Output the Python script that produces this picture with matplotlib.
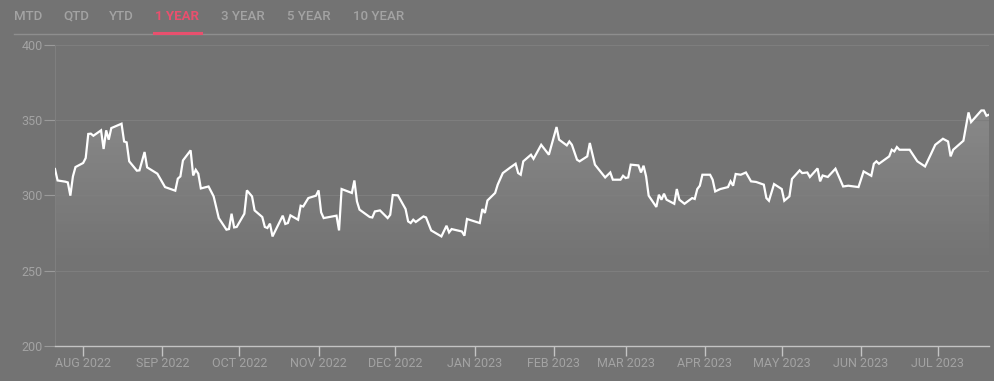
import matplotlib
matplotlib.use("Agg")
import matplotlib.pyplot as plt
import matplotlib.dates as mdates
import numpy as np
import pandas as pd

# Price series (date, close)
dates = [
    "2022-07-21", "2022-07-22", "2022-07-25", "2022-07-26", "2022-07-27", "2022-07-28", "2022-07-29",
    "2022-08-01", "2022-08-02", "2022-08-03", "2022-08-04", "2022-08-05", "2022-08-08", "2022-08-09",
    "2022-08-10", "2022-08-11", "2022-08-12", "2022-08-16", "2022-08-17", "2022-08-18", "2022-08-19",
    "2022-08-22", "2022-08-23", "2022-08-25", "2022-08-26", "2022-08-30", "2022-09-02", "2022-09-06",
    "2022-09-07", "2022-09-08", "2022-09-09", "2022-09-12", "2022-09-13", "2022-09-14", "2022-09-15",
    "2022-09-16", "2022-09-19", "2022-09-21", "2022-09-23", "2022-09-26", "2022-09-27", "2022-09-28",
    "2022-09-29", "2022-09-30", "2022-10-03", "2022-10-04", "2022-10-06", "2022-10-07", "2022-10-10",
    "2022-10-11", "2022-10-12", "2022-10-13", "2022-10-14", "2022-10-18", "2022-10-19", "2022-10-20",
    "2022-10-21", "2022-10-24", "2022-10-25", "2022-10-26", "2022-10-28", "2022-10-31", "2022-11-01",
    "2022-11-02", "2022-11-03", "2022-11-08", "2022-11-09", "2022-11-10", "2022-11-14", "2022-11-15",
    "2022-11-16", "2022-11-17", "2022-11-21", "2022-11-22", "2022-11-23", "2022-11-25", "2022-11-28",
    "2022-11-29", "2022-11-30", "2022-12-02", "2022-12-05", "2022-12-06", "2022-12-07", "2022-12-08",
    "2022-12-09", "2022-12-12", "2022-12-13", "2022-12-15", "2022-12-19", "2022-12-21", "2022-12-22",
    "2022-12-23", "2022-12-27", "2022-12-28", "2022-12-29", "2023-01-03", "2023-01-04", "2023-01-05",
    "2023-01-06", "2023-01-09", "2023-01-10", "2023-01-12", "2023-01-15", "2023-01-17", "2023-01-18",
    "2023-01-19", "2023-01-20", "2023-01-23", "2023-01-24", "2023-01-27", "2023-01-30", "2023-02-02",
    "2023-02-03", "2023-02-06", "2023-02-07", "2023-02-08", "2023-02-10", "2023-02-11", "2023-02-14",
    "2023-02-15", "2023-02-17", "2023-02-21", "2023-02-23", "2023-02-24", "2023-02-27", "2023-02-28",
    "2023-03-01", "2023-03-02", "2023-03-03", "2023-03-06", "2023-03-07", "2023-03-08", "2023-03-09",
    "2023-03-10", "2023-03-13", "2023-03-14", "2023-03-15", "2023-03-16", "2023-03-17", "2023-03-20",
    "2023-03-21", "2023-03-22", "2023-03-24", "2023-03-27", "2023-03-28", "2023-03-29", "2023-03-30",
    "2023-03-31", "2023-04-03", "2023-04-04", "2023-04-05", "2023-04-07", "2023-04-10", "2023-04-11",
    "2023-04-12", "2023-04-13", "2023-04-15", "2023-04-17", "2023-04-19", "2023-04-21", "2023-04-24",
    "2023-04-25", "2023-04-26", "2023-04-28", "2023-05-01", "2023-05-02", "2023-05-04", "2023-05-05",
    "2023-05-08", "2023-05-09", "2023-05-11", "2023-05-12", "2023-05-15", "2023-05-16", "2023-05-17",
    "2023-05-19", "2023-05-22", "2023-05-25", "2023-05-27", "2023-05-31", "2023-06-02", "2023-06-05",
    "2023-06-06", "2023-06-07", "2023-06-08", "2023-06-12", "2023-06-13", "2023-06-14", "2023-06-15",
    "2023-06-16", "2023-06-20", "2023-06-23", "2023-06-26", "2023-06-28", "2023-06-30", "2023-07-03",
    "2023-07-05", "2023-07-06", "2023-07-07", "2023-07-11", "2023-07-12", "2023-07-13", "2023-07-14",
    "2023-07-18", "2023-07-19", "2023-07-20", "2023-07-21",
]
prices = [
    317.6, 310.0, 309.2, 308.7, 299.9, 312.7, 318.9,
    321.6, 324.9, 340.9, 341.1, 339.7, 343.3, 330.9,
    343.3, 337.1, 344.8, 347.7, 335.9, 335.3, 322.7,
    316.5, 316.7, 328.9, 318.7, 314.5, 305.6, 303.2,
    311.2, 312.7, 323.3, 330.0, 313.3, 317.1, 314.5,
    304.7, 306.0, 299.4, 285.0, 277.3, 277.7, 287.9,
    278.8, 279.1, 287.9, 303.4, 299.4, 290.1, 285.7,
    279.1, 278.4, 281.3, 272.8, 286.6, 281.1, 281.7,
    286.8, 283.9, 293.2, 292.7, 298.3, 299.9, 303.4,
    288.8, 285.0, 286.6, 276.8, 304.3, 301.7, 310.0,
    296.1, 290.6, 285.7, 285.4, 289.4, 290.1, 285.0,
    287.2, 300.3, 300.1, 291.0, 282.8, 281.7, 283.9,
    282.4, 286.1, 285.4, 276.8, 272.8, 279.9, 275.5,
    277.7, 276.1, 273.3, 284.4, 281.7, 291.0, 288.4,
    296.7, 301.7, 307.2, 314.9, 318.7, 321.1, 314.9,
    313.8, 322.7, 327.1, 324.4, 333.7, 327.1, 345.5,
    337.1, 333.3, 335.9, 333.7, 323.8, 322.7, 326.0,
    334.9, 320.5, 312.0, 315.3, 310.5, 310.5, 313.1,
    311.6, 312.0, 320.5, 320.0, 315.3, 319.8, 312.7,
    299.9, 292.4, 300.5, 297.2, 301.2, 297.2, 294.5,
    304.3, 297.2, 294.5, 298.3, 297.7, 304.3, 306.5,
    313.8, 313.8, 310.5, 302.7, 304.3, 305.6, 309.4,
    306.5, 314.3, 313.8, 315.3, 309.4, 309.0, 307.2,
    298.3, 296.5, 307.6, 304.3, 296.5, 299.4, 311.0,
    316.7, 314.9, 315.3, 312.3, 318.0, 309.4, 313.3,
    312.3, 317.8, 306.0, 306.5, 305.6, 316.0, 313.1,
    321.1, 322.7, 321.1, 326.0, 330.4, 329.3, 332.2,
    330.4, 330.4, 322.7, 319.3, 326.4, 333.7, 337.7,
    335.9, 326.0, 330.4, 336.4, 346.0, 355.2, 348.8,
    356.5, 356.5, 353.0, 353.7,
]
tabs = ["MTD", "QTD", "YTD", "1 YEAR", "3 YEAR", "5 YEAR", "10 YEAR"]
active_tab = "1 YEAR"
y_ticks = [200, 250, 300, 350, 400]

BG = "#737373"
TXT = "#a3a3a3"
PINK = "#e8506e"

x = pd.to_datetime(dates)
y = np.array(prices)

fig = plt.figure(figsize=(9.94, 3.81), dpi=100, facecolor=BG)
ax = fig.add_axes([55 / 994, 35 / 381, 934 / 994, 301 / 381])
ax.set_facecolor(BG)

ax.set_ylim(200, 400)
ax.set_xlim(x[0], x[-1])

# gradient fill under the line
x_num = mdates.date2num(x)
poly = ax.fill_between(x, y, 200, color="none", linewidth=0)
grad = np.zeros((200, 1, 4))
grad[:, :, :3] = 1.0
alpha = np.clip((np.linspace(400, 200, 200) - 255) / 105, 0, 1) * 0.16
grad[:, 0, 3] = alpha
im = ax.imshow(grad, aspect="auto", extent=[x_num[0], x_num[-1], 200, 400],
               origin="upper", zorder=1)
im.set_clip_path(poly.get_paths()[0], transform=ax.transData)

ax.plot(x, y, color="white", linewidth=1.6, zorder=3, solid_joinstyle="miter")

# axes styling
ax.set_yticks(y_ticks)
ax.grid(axis="y", color="#7e7e7e", linewidth=0.8)
ax.grid(axis="x", visible=False)
for side in ["top", "right"]:
    ax.spines[side].set_visible(False)
ax.spines["left"].set_color("#7f7f7f")
ax.spines["left"].set_linewidth(0.8)
ax.spines["bottom"].set_color("#c4c4c4")
ax.spines["bottom"].set_linewidth(1.0)

ax.xaxis.set_major_locator(mdates.MonthLocator())
ax.xaxis.set_major_formatter(plt.FuncFormatter(
    lambda v, pos: mdates.num2date(v).strftime("%b %Y").upper()))
ax.tick_params(axis="x", colors="#c4c4c4", labelcolor=TXT, length=7, width=1,
               labelsize=9, pad=1)
ax.tick_params(axis="y", colors="#9a9a9a", labelcolor=TXT, length=8, width=0.8,
               labelsize=9, pad=1)
for lab in ax.get_xticklabels() + ax.get_yticklabels():
    lab.set_fontfamily("Roboto")

# header tabs
tab_x = [14, 63, 109, 155, 221, 287, 353]
for name, tx in zip(tabs, tab_x):
    fig.text(tx / 994, 1 - 16 / 381, name, ha="left", va="center", fontsize=9.5,
             color=PINK if name == active_tab else TXT, family="Roboto",
             fontweight="bold" if name == active_tab else "medium")
fig.add_artist(plt.Line2D([14 / 994, 1], [1 - 34 / 381] * 2, color="#8e8e8e", linewidth=1))
fig.add_artist(plt.Line2D([154 / 994, 201 / 994], [1 - 33 / 381] * 2, color=PINK, linewidth=2.2))

fig.savefig("out.png", dpi=100, facecolor=BG)
